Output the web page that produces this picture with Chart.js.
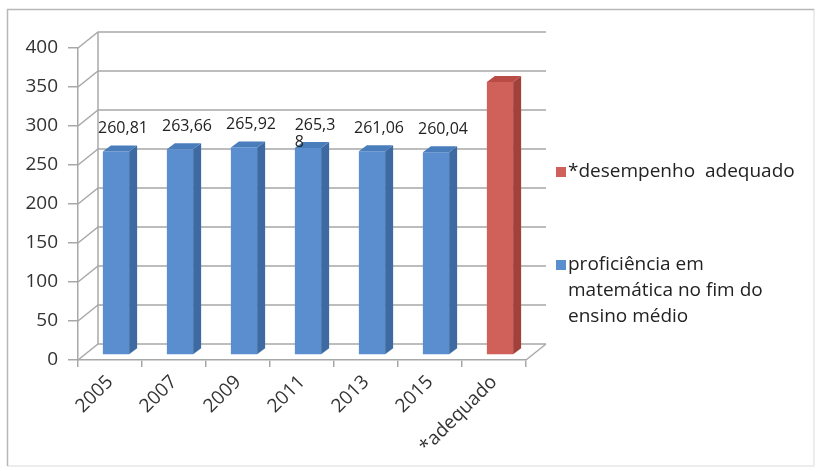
<!DOCTYPE html>
<html>
<head>
<meta charset="utf-8">
<script src="https://cdn.jsdelivr.net/npm/chart.js@4.4.0/dist/chart.umd.min.js"></script>
<style>
  body { margin: 0; background: #fff; }
</style>
</head>
<body>
<canvas id="myChart" width="817" height="471"></canvas>
<script>
// Dados do gráfico
const categorias = ['2005', '2007', '2009', '2011', '2013', '2015', '*adequado'];
const proficiencia = [260.81, 263.66, 265.92, 265.38, 261.06, 260.04, null];
const adequado = [null, null, null, null, null, null, 350];
const rotulos = ['260,81', '263,66', '265,92', '265,3\n8', '261,06', '260,04', ''];
const legendaAzul = 'proficiência em\nmatemática no fim do\nensino médio';
const legendaVermelha = '*desempenho  adequado';

// Cores das faces (frente, lado, topo)
const azul = { frente: '#5a8ecf', lado: '#3d6aa2', topo: '#4a7dbc' };
const vermelho = { frente: '#d0615a', lado: '#a2403b', topo: '#b94b46' };

const PAREDE = { dx: 20, dy: -16 };          // profundidade das paredes
const BARRA = { dx: 8, dy: -6, sx: 6, sy: -5 }; // profundidade e deslocamento das barras
const corGrade = '#a8a8a8';

Chart.defaults.font.family = "'Open Sans', sans-serif";
Chart.defaults.color = '#333';

// Moldura externa
const molduraPlugin = {
    id: 'moldura',
    beforeDraw: (chart) => {
        const ctx = chart.ctx;
        ctx.save();
        ctx.lineWidth = 1.5;
        ctx.strokeStyle = '#e8e8e8';
        ctx.beginPath();
        ctx.moveTo(814, 9); ctx.lineTo(814, 466); ctx.lineTo(7, 466);
        ctx.stroke();
        ctx.strokeStyle = '#b8b8b8';
        ctx.beginPath();
        ctx.moveTo(7.5, 466); ctx.lineTo(7.5, 9.5); ctx.lineTo(814, 9.5);
        ctx.stroke();
        ctx.restore();
    }
};

// Paredes 3D + barras com faces laterais
const tresDPlugin = {
    id: 'tresD',
    beforeDatasetsDraw: (chart) => {
        const ctx = chart.ctx;
        const a = chart.chartArea;
        const y = chart.scales.y;
        ctx.save();
        ctx.strokeStyle = corGrade;
        ctx.lineWidth = 1.5;
        // linhas de grade na parede do fundo
        y.ticks.forEach(t => {
            const py = y.getPixelForValue(t.value);
            ctx.beginPath();
            ctx.moveTo(a.left, py);
            ctx.lineTo(a.left + PAREDE.dx, py + PAREDE.dy);
            ctx.lineTo(a.right + PAREDE.dx, py + PAREDE.dy);
            ctx.stroke();
        });
        // borda esquerda do fundo
        ctx.beginPath();
        ctx.moveTo(a.left + PAREDE.dx, a.top + PAREDE.dy);
        ctx.lineTo(a.left + PAREDE.dx, a.bottom + PAREDE.dy);
        ctx.stroke();
        // piso
        ctx.beginPath();
        ctx.moveTo(a.right, a.bottom);
        ctx.lineTo(a.right + PAREDE.dx, a.bottom + PAREDE.dy);
        ctx.stroke();
        ctx.restore();

        ctx.save();
        ctx.translate(BARRA.sx, BARRA.sy);
    },
    afterDatasetsDraw: (chart) => {
        const ctx = chart.ctx;
        chart.data.datasets.forEach((ds, i) => {
            const cores = i === 0 ? vermelho : azul;
            chart.getDatasetMeta(i).data.forEach((bar, j) => {
                if (ds.data[j] == null) return;
                const l = bar.x - bar.width / 2, r = bar.x + bar.width / 2;
                ctx.fillStyle = cores.lado;
                ctx.beginPath();
                ctx.moveTo(r, bar.y);
                ctx.lineTo(r + BARRA.dx, bar.y + BARRA.dy);
                ctx.lineTo(r + BARRA.dx, bar.base + BARRA.dy);
                ctx.lineTo(r, bar.base);
                ctx.closePath();
                ctx.fill();
                ctx.fillStyle = cores.topo;
                ctx.beginPath();
                ctx.moveTo(l, bar.y);
                ctx.lineTo(l + BARRA.dx, bar.y + BARRA.dy);
                ctx.lineTo(r + BARRA.dx, bar.y + BARRA.dy);
                ctx.lineTo(r, bar.y);
                ctx.closePath();
                ctx.fill();
            });
        });
        // rótulos de dados
        ctx.font = "16px 'Open Sans', sans-serif";
        ctx.fillStyle = '#222';
        ctx.textBaseline = 'middle';
        ctx.textAlign = 'left';
        chart.getDatasetMeta(1).data.forEach((bar, j) => {
            if (!rotulos[j]) return;
            const linhas = rotulos[j].split('\n');
            const w = ctx.measureText(linhas[0]).width;
            const x0 = bar.x + 7 - w / 2;
            linhas.forEach((t, k) => ctx.fillText(t, x0, bar.y - 23 + k * 17));
        });
        ctx.restore();
    }
};

// Legenda à direita
const legendaPlugin = {
    id: 'legendaLateral',
    afterDraw: (chart) => {
        const ctx = chart.ctx;
        ctx.save();
        ctx.font = "19px 'Open Sans', sans-serif";
        ctx.textBaseline = 'middle';
        const itens = [
            { texto: legendaVermelha, cor: vermelho.frente, y: 172 },
            { texto: legendaAzul, cor: azul.frente, y: 265 }
        ];
        itens.forEach(it => {
            ctx.fillStyle = it.cor;
            ctx.fillRect(556, it.y - 5, 10, 10);
            ctx.fillStyle = '#222';
            it.texto.split('\n').forEach((t, k) => ctx.fillText(t, 568, it.y + k * 26));
        });
        ctx.restore();
    }
};

const ctx = document.getElementById('myChart').getContext('2d');
new Chart(ctx, {
    type: 'bar',
    data: {
        labels: categorias,
        datasets: [{
            label: legendaVermelha,
            data: adequado,
            backgroundColor: vermelho.frente,
            borderWidth: 0,
            barPercentage: 0.41,
            categoryPercentage: 1
        }, {
            label: legendaAzul,
            data: proficiencia,
            backgroundColor: azul.frente,
            borderWidth: 0,
            barPercentage: 0.41,
            categoryPercentage: 1
        }]
    },
    options: {
        responsive: false,
        animation: false,
        layout: { padding: { left: 0, top: 48, right: 291, bottom: 0 } },
        plugins: {
            legend: { display: false },
            tooltip: { enabled: false }
        },
        scales: {
            x: {
                stacked: true,
                offset: true,
                grid: { offset: true, drawOnChartArea: false, tickLength: 7, color: corGrade, lineWidth: 1.5 },
                border: { color: corGrade, width: 1.5 },
                ticks: { minRotation: 45, maxRotation: 45, padding: 4, color: '#333', font: { size: 19 } },
                afterFit: (s) => { s.height = 111; }
            },
            y: {
                min: 0,
                max: 400,
                grid: { drawOnChartArea: false, tickLength: 10, color: corGrade, lineWidth: 1.5 },
                border: { color: corGrade, width: 1.5 },
                ticks: { stepSize: 50, padding: 10, color: '#333', font: { size: 19 } },
                afterFit: (s) => { s.width = 78; }
            }
        }
    },
    plugins: [molduraPlugin, tresDPlugin, legendaPlugin]
});
</script>
</body>
</html>
